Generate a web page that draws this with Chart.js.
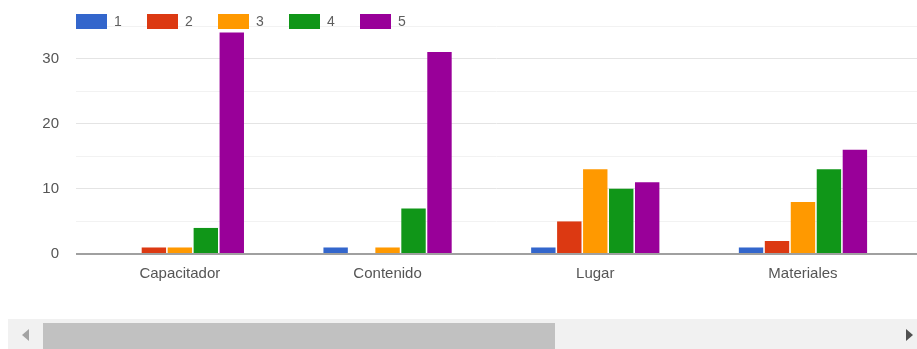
<!DOCTYPE html>
<html>
<head>
<meta charset="utf-8">
<script src="https://cdn.jsdelivr.net/npm/chart.js@4/dist/chart.umd.min.js"></script>
<style>
  html, body { margin: 0; padding: 0; background: #fff; overflow: hidden; }
  #wrap { position: relative; width: 917px; height: 349px; }
  #chart { position: absolute; left: 0; top: 0; }
  .track { position: absolute; left: 8px; top: 319px; width: 909px; height: 30px; background: #f1f1f1; }
  .thumb { position: absolute; left: 35px; top: 4px; width: 512px; height: 26px; background: #c1c1c1; }
  .arrow { position: absolute; top: 10px; width: 0; height: 0; border-top: 6px solid transparent; border-bottom: 6px solid transparent; }
  .arrow.left { left: 14px; border-right: 7px solid #a3a3a3; }
  .arrow.right { left: 898px; border-left: 7px solid #505050; }
</style>
</head>
<body>
<div id="wrap">
  <canvas id="chart" width="917" height="300"></canvas>
  <div class="track">
    <div class="arrow left"></div>
    <div class="thumb"></div>
    <div class="arrow right"></div>
  </div>
</div>
<script>
// Categories and rating counts (1 to 5) per category
const categories = ['Capacitador', 'Contenido', 'Lugar', 'Materiales'];
const seriesNames = ['1', '2', '3', '4', '5'];
const rating1 = [0, 1, 1, 1];
const rating2 = [1, 0, 5, 2];
const rating3 = [1, 1, 13, 8];
const rating4 = [4, 7, 10, 13];
const rating5 = [34, 31, 11, 16];
const yTicks = [0, 10, 20, 30];
const colors = ['#3366cc', '#dc3912', '#ff9900', '#109618', '#990099'];

const seriesValues = [rating1, rating2, rating3, rating4, rating5];
const datasets = seriesValues.map((vals, i) => ({
  label: seriesNames[i],
  data: vals.map((v, j) => ({ x: j, y: v })),
  backgroundColor: colors[i],
  borderWidth: 0,
  categoryPercentage: 0.625,
  barPercentage: 0.94
}));

const font = { family: "'Liberation Sans', Arial, sans-serif", size: 15 };

// Legend drawn across the top, left-aligned with the plot
const topLegend = {
  id: 'topLegend',
  afterDraw(chart) {
    const ctx = chart.ctx;
    ctx.save();
    ctx.font = "14px 'Liberation Sans', Arial, sans-serif";
    ctx.textBaseline = 'middle';
    ctx.textAlign = 'left';
    chart.data.datasets.forEach((ds, i) => {
      const x = 76 + i * 71;
      ctx.fillStyle = ds.backgroundColor;
      ctx.fillRect(x, 14, 31, 15);
      ctx.fillStyle = '#5f5f5f';
      ctx.fillText(ds.label, x + 38, 22);
    });
    ctx.restore();
  }
};

new Chart(document.getElementById('chart'), {
  type: 'bar',
  data: { datasets },
  options: {
    responsive: false,
    animation: false,
    layout: { padding: { top: 24, left: 0, right: 0, bottom: 0 } },
    plugins: { legend: { display: false }, tooltip: { enabled: false } },
    scales: {
      x: {
        type: 'linear',
        min: -0.5,
        max: 3.549,
        offset: false,
        afterBuildTicks(scale) { scale.ticks = categories.map((c, i) => ({ value: i })); },
        afterFit(scale) { scale.height = 46; },
        ticks: {
          autoSkip: false,
          maxRotation: 0,
          padding: 11,
          color: '#555',
          font,
          callback: (v) => categories[v] ?? ''
        },
        grid: { display: false, drawTicks: false },
        border: { display: false }
      },
      y: {
        min: 0,
        max: 35,
        afterFit(scale) { scale.width = 76; },
        ticks: {
          stepSize: 5,
          padding: 17,
          color: '#555',
          font,
          callback: (v) => yTicks.includes(v) ? String(v) : ''
        },
        grid: {
          drawTicks: false,
          color: (c) => c.tick.value === 0 ? '#a0a0a0' : (c.tick.value % 10 === 0 ? '#e4e4e4' : '#f2f2f2'),
          lineWidth: (c) => c.tick.value === 0 ? 2 : 1
        },
        border: { display: false }
      }
    }
  },
  plugins: [topLegend]
});
</script>
</body>
</html>
